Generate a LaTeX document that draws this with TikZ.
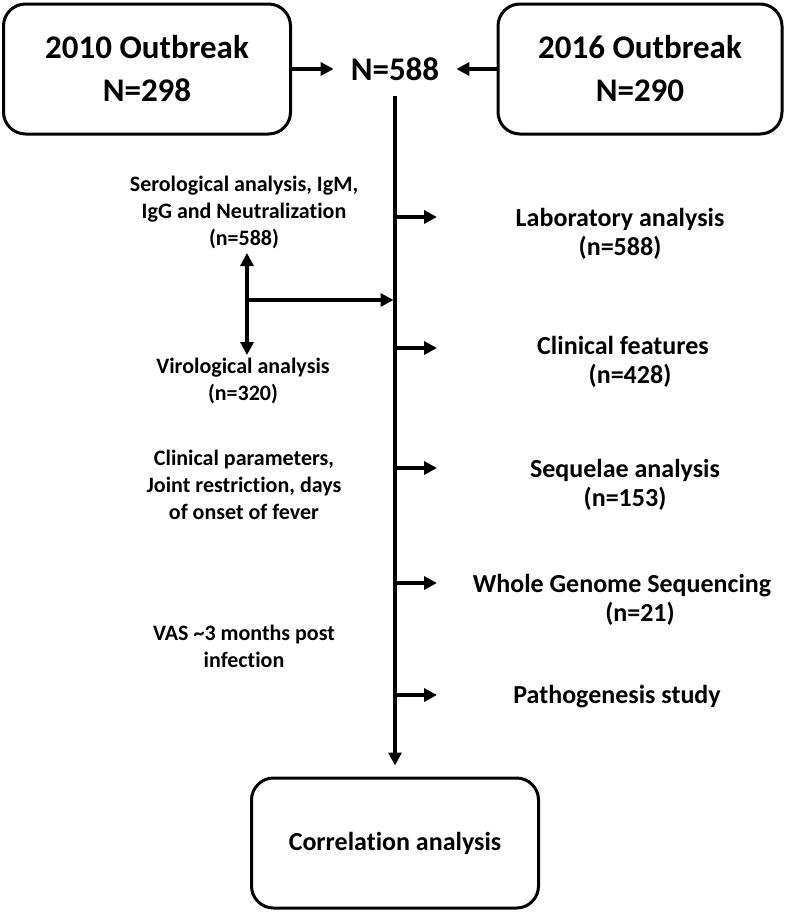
\documentclass[tikz,border=0pt]{standalone}
\usepackage{fontspec}
\setmainfont{Carlito}[Ligatures={NoCommon}]
\usetikzlibrary{arrows.meta}
\begin{document}
\begin{tikzpicture}[x=1pt,y=-1pt,
  box/.style={draw, line width=3pt, rounded corners=22pt, inner sep=0pt},
  big/.style={font=\fontsize{33}{43}\selectfont\bfseries, align=center},
  lab/.style={font=\fontsize{26}{29}\selectfont\bfseries, align=center},
  side/.style={font=\fontsize{22}{27}\selectfont\bfseries, align=center},
  arr/.style={line width=3.5pt, -{Triangle[length=13pt,width=13pt]}},
  ln/.style={line width=3.5pt}]
\useasboundingbox (0,0) rectangle (789,913);
% boxes
\node[box, big, minimum width=287pt, minimum height=130pt] (b2010) at (147,69) {2010 Outbreak\\N=298};
\node[box, big, minimum width=284pt, minimum height=130pt] (b2016) at (640,69) {2016 Outbreak\\N=290};
\node[big, inner xsep=17pt, inner ysep=15pt] (n588) at (395,69) {N=588};
\node[box, lab, minimum width=287pt, minimum height=130pt] (corr) at (395,843) {Correlation analysis};
% top arrows
\draw[arr] (b2010.east |- n588.west) -- (n588.west);
\draw[arr] (b2016.west |- n588.east) -- (n588.east);
% main line
\draw[arr, shorten >=11pt] (n588.south) -- (corr.north);
% right labels
\node[lab] (lab1) at (620,234) {Laboratory analysis\\(n=588)};
\node[lab] (lab2) at (623,362) {Clinical features\\\hspace*{14pt}(n=428)};
\node[lab] (lab3) at (625,485) {Sequelae analysis\\(n=153)};
\node[lab] (lab4) at (622,600) {Whole Genome Sequencing\\\hspace*{36pt}(n=21)};
\node[lab] (lab5) at (617,697) {Pathogenesis study};
% left labels
\node[side] (sero) at (244,212) {Serological analysis, IgM,\\IgG and Neutralization\\(n=588)};
\node[side] (viro) at (243,381) {Virological analysis\\(n=320)};
\node[side] (clin) at (244,485) {Clinical parameters,\\Joint restriction, days\\of onset of fever};
\node[side] (vas) at (244,646) {VAS \textasciitilde3 months post\\infection};
% branch coordinates
\coordinate (j1) at (395,217); \coordinate (e1) at (437,217);
\coordinate (j2) at (395,348); \coordinate (e2) at (437,348);
\coordinate (j3) at (395,468); \coordinate (e3) at (437,468);
\coordinate (j4) at (395,583); \coordinate (e4) at (437,583);
\coordinate (j5) at (395,695); \coordinate (e5) at (437,695);
\foreach \i in {1,...,5} {\draw[arr] (j\i) -- (e\i);}
% double arrow
\coordinate (dm) at (247,300);
\coordinate (dt) at (247,253);
\coordinate (db) at (247,355);
\coordinate (jm) at (393.5,300);
\draw[arr] (dm) -- (dt);
\draw[arr] (dm) -- (db);
\draw[arr] (dm) -- (jm);
\end{tikzpicture}
\end{document}
